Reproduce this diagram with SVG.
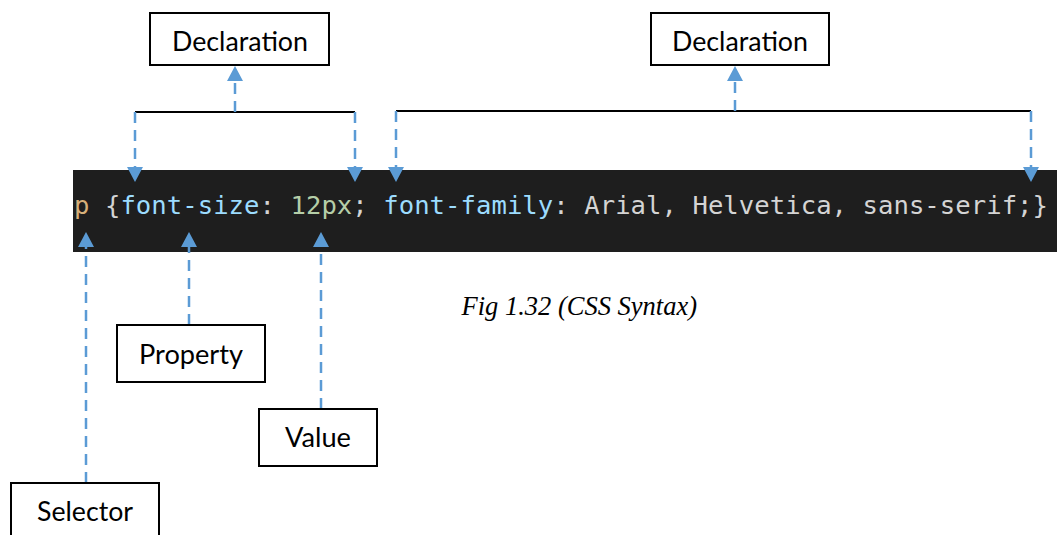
<svg xmlns="http://www.w3.org/2000/svg" width="1057" height="535" viewBox="0 0 1057 535">
  <defs>
    <style>
      .box { fill: #ffffff; stroke: #000000; stroke-width: 2; }
      .label { font-family: Lato, "Open Sans", "Liberation Sans", sans-serif; font-size: 26px; fill: #000000; text-anchor: start; }
      .bracket { stroke: #000000; stroke-width: 2; fill: none; }
      .dash { stroke: #5b9bd5; stroke-width: 2.5; stroke-dasharray: 11 7; fill: none; }
      .code { font-family: "DejaVu Sans Mono", "Liberation Mono", monospace; font-size: 25.6px; }
      .sel { fill: #d7b07a; }
      .punc { fill: #d4d4d4; }
      .prop { fill: #9cdcfe; }
      .num { fill: #b5cea8; }
      .val { fill: #d4d4d4; }
      .caption { font-family: "Liberation Serif", "Times New Roman", serif; font-style: italic; font-size: 26.5px; fill: #000000; text-anchor: end; }
    </style>
    <marker id="arrow" viewBox="0 0 15 16" markerWidth="15" markerHeight="16" refX="7" refY="8" orient="auto" markerUnits="userSpaceOnUse">
      <path d="M0,0 L15,8 L0,16 Z" fill="#5b9bd5"/>
    </marker>
  </defs>

  <rect width="1057" height="535" fill="#ffffff"/>

  <!-- code strip -->
  <g id="code">
    <rect x="73" y="170" width="984" height="82" fill="#1e1e1e"/>
    <text class="code" x="74" y="214" textLength="974" lengthAdjust="spacing"><tspan class="sel">p</tspan><tspan class="punc"> {</tspan><tspan class="prop">font-size</tspan><tspan class="punc">: </tspan><tspan class="num">12px</tspan><tspan class="punc">; </tspan><tspan class="prop">font-family</tspan><tspan class="punc">: </tspan><tspan class="val">Arial, Helvetica, sans-serif</tspan><tspan class="punc">;}</tspan></text>
  </g>

  <!-- connectors -->
  <g id="connectors">
    <!-- first declaration bracket -->
    <line class="bracket" x1="135" y1="112" x2="355" y2="112"/>
    <line class="dash" x1="235" y1="112" x2="235" y2="74" marker-end="url(#arrow)"/>
    <line class="dash" x1="135" y1="112" x2="135" y2="174" marker-end="url(#arrow)"/>
    <line class="dash" x1="355" y1="112" x2="355" y2="174" marker-end="url(#arrow)"/>
    <!-- second declaration bracket -->
    <line class="bracket" x1="396" y1="111" x2="1031" y2="111"/>
    <line class="dash" x1="735" y1="111" x2="735" y2="74" marker-end="url(#arrow)"/>
    <line class="dash" x1="396" y1="111" x2="396" y2="174" marker-end="url(#arrow)"/>
    <line class="dash" x1="1031" y1="111" x2="1031" y2="174" marker-end="url(#arrow)"/>
    <!-- selector, property, value pointers -->
    <line class="dash" x1="86" y1="483" x2="86" y2="240" marker-end="url(#arrow)"/>
    <line class="dash" x1="189" y1="325" x2="189" y2="240" marker-end="url(#arrow)"/>
    <line class="dash" x1="321" y1="409" x2="321" y2="240" marker-end="url(#arrow)"/>
  </g>

  <g id="declaration-1">
    <rect class="box" x="150" y="13" width="179" height="52"/>
    <text class="label" x="172" y="51" textLength="136" lengthAdjust="spacingAndGlyphs">Declaration</text>
  </g>

  <g id="declaration-2">
    <rect class="box" x="651" y="13" width="178" height="52"/>
    <text class="label" x="672" y="51" textLength="136" lengthAdjust="spacingAndGlyphs">Declaration</text>
  </g>

  <g id="property">
    <rect class="box" x="117" y="325" width="148" height="57"/>
    <text class="label" x="139" y="364" textLength="104" lengthAdjust="spacingAndGlyphs">Property</text>
  </g>

  <g id="value">
    <rect class="box" x="259" y="409" width="118" height="57"/>
    <text class="label" x="285" y="447" textLength="66" lengthAdjust="spacingAndGlyphs">Value</text>
  </g>

  <g id="selector">
    <rect class="box" x="11" y="483" width="148" height="60"/>
    <text class="label" x="37" y="521" textLength="96" lengthAdjust="spacingAndGlyphs">Selector</text>
  </g>

  <text class="caption" x="697" y="315">Fig 1.32 (CSS Syntax)</text>
</svg>
